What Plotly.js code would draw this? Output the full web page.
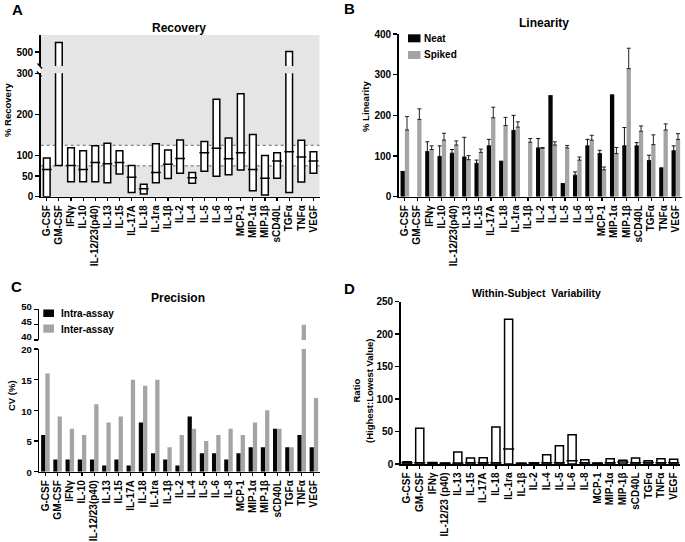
<!DOCTYPE html>
<html><head><meta charset="utf-8">
<script src="https://cdn.plot.ly/plotly-3.0.1.min.js"></script>
<style>html,body{margin:0;padding:0;background:#fff}#chart{width:685px;height:542px}</style>
</head><body><div id="chart"></div>
<script>
// ---------- data ----------
const cytokines = ["G-CSF","GM-CSF","IFNγ","IL-10","IL-12/23(p40)","IL-13","IL-15","IL-17A","IL-18","IL-1ra","IL-1β","IL-2","IL-4","IL-5","IL-6","IL-8","MCP-1","MIP-1α","MIP-1β","sCD40L","TGFα","TNFα","VEGF"];
const cytokinesD = ["G-CSF","GM-CSF","IFNγ","IL-12/23 (p40)","IL-13","IL-15","IL-17A","IL-18","IL-1ra","IL-1β","IL-2","IL-4","IL-5","IL-6","IL-8","MCP-1","MIP-1α","MIP-1β","sCD40L","TGFα","TNFα","VEGF"];

// A: Recovery (% range: low, median, high)
const recLow  = [0,76,36.5,36.5,36.5,34,55,10.5,6.5,34,44,57,33,62,50,53.5,65,14.6,4,44.6,10.5,35.7,57];
const recMed  = [66,null,76,66,83,80,83,47,19.5,59,79,93,46,107,118,92,107,66,44.6,87,109,96.5,87];
const recHigh = [94,528,119,112,124,130,112,76,30,129,113.5,138,59,134,237,143,250,151,100,107,502,137,109];
const recAcceptLow = 75, recAcceptHigh = 125;
const recTicksLower = [0,50,100,200,300];
const recTicksUpper = [500];

// B: Linearity (% mean and upper error)
const linNeat      = [62,null,111,99,107,97.5,82,125,87,163,null,120,248,32,53,125,106,250,125,125,89,70.5,113];
const linNeatErr   = [null,null,24,26,9,48.5,8,16,null,37,null,23,null,null,8,16,8,null,45,8,13,null,12];
const linSpiked    = [164,190,116,139,127,91,109,194,175,171,134,119,127,120,90,139,66,106,315,161,128,164,141];
const linSpikedErr = [33,26,9,17,10,10,8,26,20,13,9,2,8,6,7.5,12,7,15,50,13,24,15,14];
const linTicks = [0,100,200,300,400];

// C: Precision (CV %)
const cvIntra = [6,2,2,2,2,1,2,1,8,3,2,1,9,3,3,2,3,4,4,7,4,6,4];
const cvInter = [16,9,7,6,11,8,9,15,14,15,4,6,7,5,6,7,6,8,10,7,4,45,12];
const cvTicksLower = [0,5,10,15,20];
const cvTicksUpper = [40,45,50];

// D: Within-subject variability (ratio highest:lowest)
const ratioHigh = [3.6,55,2.5,1.5,18.5,9.3,9.8,57,223,1,2,14.4,28,45,6.7,1.5,8.2,5.7,9.3,5,8.2,7.2];
const ratioMed  = [2,2,1.5,1,1.5,2,2,2,23,1,1.5,2,2,5,2,1,2,3,2,2.5,2,2];
const ratioTicks = [0,50,100,150,200,250];

const names = {neat:"Neat", spiked:"Spiked", intra:"Intra-assay", inter:"Inter-assay"};

// ---------- helpers ----------
const W = 685, H = 542;
const fx = x => x / W, fy = y => 1 - y / H;
const FF = "Liberation Sans, Arial, sans-serif";
const bf = (s) => ({family: FF, size: s, color: "#000", weight: 700});
const BLACK = "#000", GRAY = "#a4a4a4";

const valAxis = (extra) => Object.assign({
  showline: true, linecolor: BLACK, linewidth: 1.5, ticks: "outside", ticklen: 4, tickwidth: 1.5,
  tickcolor: BLACK, showgrid: false, zeroline: false, tickfont: bf(10), tickmode: "array", fixedrange: true
}, extra);
const catAxis = (extra) => Object.assign({
  type: "category", showline: true, linecolor: BLACK, linewidth: 1.5, ticks: "outside", ticklen: 3,
  tickwidth: 1.2, tickcolor: BLACK, showgrid: false, zeroline: false, tickfont: bf(10),
  tickangle: -90, tickmode: "linear", tick0: 0, dtick: 1, fixedrange: true
}, extra);

const diff = (a, b) => a.map((v, i) => v - b[i]);

// ---------- traces ----------
const traces = [];
// A boxes (lower and upper segments)
["y", "y5"].forEach(ya => traces.push({
  type: "bar", x: cytokines, y: diff(recHigh, recLow), base: recLow, width: 0.55,
  xaxis: "x", yaxis: ya, marker: {color: "#fff", line: {color: BLACK, width: 1.5}},
  showlegend: false, hoverinfo: "skip", cliponaxis: true
}));
traces.push({
  type: "scatter", mode: "markers", x: cytokines, y: recMed, xaxis: "x", yaxis: "y",
  marker: {symbol: "line-ew", size: 7, color: BLACK, line: {color: BLACK, width: 1.5}},
  showlegend: false, hoverinfo: "skip"
});
// B
traces.push({
  type: "bar", name: names.neat, x: cytokines, y: linNeat, xaxis: "x2", yaxis: "y2",
  marker: {color: "#050505"}, showlegend: false,
  error_y: {type: "data", symmetric: false, array: linNeatErr, arrayminus: linNeatErr.map(() => 0),
            color: "#111", thickness: 1, width: 2}
});
traces.push({
  type: "bar", name: names.spiked, x: cytokines, y: linSpiked, xaxis: "x2", yaxis: "y2",
  marker: {color: GRAY}, showlegend: false,
  error_y: {type: "data", symmetric: false, array: linSpikedErr, arrayminus: linSpikedErr.map(() => 0),
            color: "#222", thickness: 1, width: 2}
});
// C (lower and upper segments)
["y3", "y6"].forEach(ya => {
  traces.push({type: "bar", name: names.intra, x: cytokines, y: cvIntra, xaxis: "x3", yaxis: ya,
               marker: {color: "#050505"}, showlegend: false, cliponaxis: true});
  traces.push({type: "bar", name: names.inter, x: cytokines, y: cvInter, xaxis: "x3", yaxis: ya,
               marker: {color: GRAY}, showlegend: false, cliponaxis: true});
});
// D
traces.push({
  type: "bar", x: cytokinesD, y: ratioHigh, width: 0.64, xaxis: "x4", yaxis: "y4",
  marker: {color: "#fff", line: {color: BLACK, width: 1.5}}, showlegend: false
});
traces.push({
  type: "scatter", mode: "markers", x: cytokinesD, y: ratioMed, xaxis: "x4", yaxis: "y4",
  marker: {symbol: "line-ew", size: 8, color: BLACK, line: {color: BLACK, width: 1.5}},
  showlegend: false, hoverinfo: "skip"
});

// ---------- layout ----------
const ann = (text, x, y, size, extra) => Object.assign({
  text, x: fx(x), y: fy(y), xref: "paper", yref: "paper", showarrow: false,
  xanchor: "center", yanchor: "middle", font: bf(size)
}, extra || {});

const layout = {
  width: W, height: H, margin: {l: 0, r: 0, t: 0, b: 0},
  paper_bgcolor: "#fff", plot_bgcolor: "rgba(0,0,0,0)",
  font: {family: FF, size: 10, color: "#000"},
  barmode: "group", bargap: 0.3, bargroupgap: 0, showlegend: false,
  // A
  xaxis: catAxis({domain: [fx(40.7), fx(319.5)], anchor: "y", range: [-0.5, 22.5]}),
  yaxis: valAxis({domain: [fy(196.7), fy(73.3)], anchor: "x", range: [0, 300], tickvals: recTicksLower}),
  yaxis5: valAxis({domain: [fy(66), fy(35)], anchor: "x", range: [460, 550], tickvals: recTicksUpper}),
  // B
  xaxis2: catAxis({domain: [fx(398.7), fx(682)], anchor: "y2", range: [-0.5, 22.5]}),
  yaxis2: valAxis({domain: [fy(196.7), fy(34)], anchor: "x2", range: [0, 400], tickvals: linTicks}),
  // C
  xaxis3: catAxis({domain: [fx(39.3), fx(320)], anchor: "y3", range: [-0.5, 22.5]}),
  yaxis3: valAxis({domain: [fy(471.7), fy(349)], anchor: "x3", range: [0, 20], tickvals: cvTicksLower,
                   tickfont: bf(9.5), ticklabelshift: 1}),
  yaxis6: valAxis({domain: [fy(340), fy(309.3)], anchor: "x3", range: [40, 50], tickvals: cvTicksUpper,
                   tickfont: bf(9.5), ticklabelshift: -3}),
  // D
  xaxis4: catAxis({domain: [fx(400.7), fx(680)], anchor: "y4", range: [-0.5, 21.5]}),
  yaxis4: valAxis({domain: [fy(464), fy(301.7)], anchor: "x4", range: [0, 250], tickvals: ratioTicks}),
  shapes: [
    // A shaded region outside acceptance band
    {type: "rect", xref: "x domain", x0: 0, x1: 1, yref: "paper", y0: fy(196.7), y1: fy(35),
     fillcolor: "#e5e5e5", line: {width: 0}, layer: "below"},
    {type: "rect", xref: "x domain", x0: 0, x1: 1, yref: "y", y0: recAcceptLow, y1: recAcceptHigh,
     fillcolor: "#fff", line: {width: 0}, layer: "below"},
    {type: "line", xref: "x domain", x0: 0, x1: 1, yref: "y", y0: recAcceptLow, y1: recAcceptLow,
     line: {color: "#666", width: 1, dash: "dot"}, layer: "below"},
    {type: "line", xref: "x domain", x0: 0, x1: 1, yref: "y", y0: recAcceptHigh, y1: recAcceptHigh,
     line: {color: "#666", width: 1, dash: "dot"}, layer: "below"},
    // A axis break marks
    {type: "line", xref: "paper", yref: "paper", x0: fx(37.5), y0: fy(63.5), x1: fx(42), y1: fy(68.5),
     line: {color: BLACK, width: 1.3}},
    {type: "line", xref: "paper", yref: "paper", x0: fx(37), y0: fy(71.5), x1: fx(41.5), y1: fy(76.5),
     line: {color: BLACK, width: 1.3}},
    // B legend swatches
    {type: "rect", xref: "paper", yref: "paper", x0: fx(408), x1: fx(420.5), y0: fy(42.3), y1: fy(34.3),
     fillcolor: "#050505", line: {width: 0}},
    {type: "rect", xref: "paper", yref: "paper", x0: fx(408), x1: fx(420.5), y0: fy(59), y1: fy(51),
     fillcolor: GRAY, line: {width: 0}},
    // C legend swatches
    {type: "rect", xref: "paper", yref: "paper", x0: fx(43.3), x1: fx(54), y0: fy(317), y1: fy(309.5),
     fillcolor: "#050505", line: {width: 0}},
    {type: "rect", xref: "paper", yref: "paper", x0: fx(43.3), x1: fx(54), y0: fy(332.7), y1: fy(324.5),
     fillcolor: GRAY, line: {width: 0}}
  ],
  annotations: [
    ann("A", 17.5, 10, 15), ann("B", 349, 9, 15), ann("C", 16.5, 286.5, 15), ann("D", 349, 288, 15),
    ann("Recovery", 179, 27.5, 12), ann("Linearity", 544, 23.3, 12),
    ann("Precision", 177.8, 297.5, 12), ann("Within-Subject \u00a0Variability", 536.7, 293.3, 10.5),
    ann("% Recovery", 7, 110, 9.5, {textangle: -90}),
    ann("% Linearity", 365, 107, 9.5, {textangle: -90}),
    ann("CV (%)", 11, 396, 9.5, {textangle: -90}),
    ann("Ratio", 355.5, 391, 9.5, {textangle: -90}),
    ann("(Highest:Lowest Value)", 369, 391, 9.5, {textangle: -90}),
    ann(names.neat, 422, 38.3, 10, {xanchor: "left"}),
    ann(names.spiked, 422, 55, 10, {xanchor: "left"}),
    ann(names.intra, 59, 313.3, 10, {xanchor: "left"}),
    ann(names.inter, 59, 329, 10, {xanchor: "left"})
  ]
};

Plotly.newPlot("chart", traces, layout, {staticPlot: true, displayModeBar: false});
</script>
</body></html>
